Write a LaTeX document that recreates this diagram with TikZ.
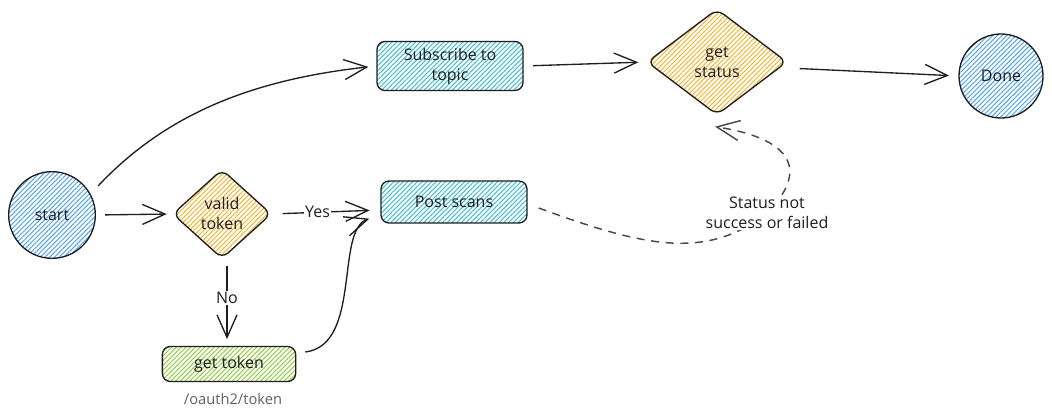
\documentclass[tikz,border=0pt]{standalone}
\usepackage{fontspec}
\setmainfont{Open Sans}
\usetikzlibrary{shapes.geometric,arrows.meta,patterns.meta,calc}
\definecolor{ink}{HTML}{1E1E1E}
\definecolor{hblue}{HTML}{5AA8EE}
\definecolor{hcyan}{HTML}{45BFD0}
\definecolor{hyel}{HTML}{F5B83A}
\definecolor{hgreen}{HTML}{94CF45}
\definecolor{dgray}{HTML}{4A4A4A}
\definecolor{lgray}{HTML}{5C6068}
\tikzset{
  hach/.style={pattern={Lines[angle=45,distance=2.5pt,line width=0.8pt]}, pattern color=#1},
  base/.style={draw=ink, line width=1pt, text=ink, align=center, font=\fontsize{12}{15}\selectfont},
  circ/.style={base, circle, minimum size=#1, inner sep=0pt},
  box/.style={base, rectangle, rounded corners=6pt, inner sep=0pt},
  dia/.style={base, diamond, rounded corners=6pt, inner sep=0pt},
  conn/.style={draw=ink, line width=1pt, -{Straight Barb[length=17pt,width=15pt,line width=1pt]}},
  dconn/.style={draw=dgray, line width=1.1pt, dash pattern=on 6pt off 5pt, -{Straight Barb[length=17pt,width=15pt,line width=1.1pt]}},
  lbl/.style={fill=white, text=ink, inner sep=1pt, align=center, font=\fontsize{12}{15}\selectfont},
}
\begin{document}
\begin{tikzpicture}[x=0.75pt,y=-0.75pt]
\useasboundingbox (0,0) rectangle (1052,420);

\node[circ=65pt, hach=hblue] (start) at (52,215) {start};
\node[dia, hach=hyel, minimum width=74pt, minimum height=67pt] (valid) at (222,214) {valid\\token};
\node[box, hach=hgreen, minimum width=100pt, minimum height=26.25pt] (gettoken) at (229,364) {get token};
\node[text=lgray, font=\fontsize{11}{13}\selectfont] (oauth) at (233,399) {/oauth2/token};
\node[box, hach=hcyan, minimum width=109.5pt, minimum height=36.75pt] (sub) at (450,66) {Subscribe to\\topic};
\node[box, hach=hcyan, minimum width=109.5pt, minimum height=31.5pt] (post) at (454,202) {Post scans};
\node[dia, hach=hyel, minimum width=105pt, minimum height=79.5pt] (status) at (717,62) {get\\status};
\node[circ=63pt, hach=hblue] (done) at (1001,76) {Done};

\coordinate (vs) at ($(valid.south)+(5,0)$);

% start -> valid
\draw[conn, shorten <=7pt, shorten >=4pt] (start.east) -- (valid.west);
% start -> subscribe
\draw[conn, shorten >=6pt] ($(start.center)+(46,-29)$) .. controls (165,115) and (250,80) .. (sub.west);
% valid -> post (Yes)
\draw[conn, shorten <=8pt, shorten >=8pt] (valid.east) -- ($(post.west)+(0,8)$) node[lbl, pos=0.42] (yes) {Yes};
% valid -> get token (No)
\draw[conn, shorten <=5pt, shorten >=5pt] (vs) -- (vs |- gettoken.north) node[lbl, pos=0.45] (no) {No};
% get token -> post
\draw[conn] ($(gettoken.east)+(9,-12)$) .. controls (362,345) and (335,230) .. ($(post.south west)+(-11,-5)$);
% subscribe -> status
\draw[conn, shorten <=7pt, shorten >=6pt] (sub.east) -- (status.west);
% status -> done
\draw[conn, shorten <=9pt, shorten >=7pt] ($(status.east)+(0,6)$) -- (done.west);
% post -> status (dashed)
\draw[dconn] ($(post.east)+(11,6)$) .. controls (640,245) and (705,262) .. (767,213)
  node[lbl] (cond) {Status not\\success or failed}
  .. controls (805,175) and (800,140) .. ($(status.south)+(-2,11)$);
\end{tikzpicture}
\end{document}
